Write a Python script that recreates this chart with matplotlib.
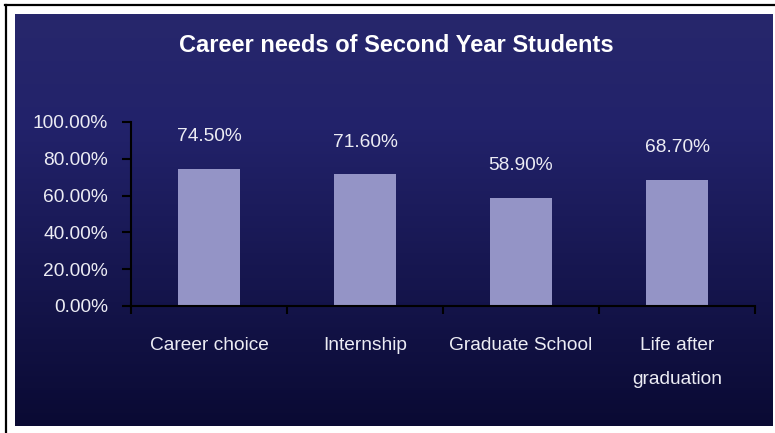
import numpy as np
import matplotlib
matplotlib.use("Agg")
import matplotlib.pyplot as plt
from matplotlib.colors import LinearSegmentedColormap
from matplotlib.lines import Line2D
from matplotlib.ticker import PercentFormatter, FixedLocator

categories = ["Career choice", "Internship", "Graduate School", "Life after\ngraduation"]
shares = [0.745, 0.716, 0.589, 0.687]
title = "Career needs of Second Year Students"

FONT = ["Liberation Sans Narrow", "Liberation Sans", "DejaVu Sans"]
plt.rcParams["font.family"] = FONT
TEXT = "#ECECF4"
LABEL_SIZE = 13.8

W, H = 775, 433
fig = plt.figure(figsize=(W / 100, H / 100), dpi=100, facecolor="white")

# navy panel with a vertical gradient
bg = fig.add_axes([15 / W, (H - 426) / H, 758 / W, 412 / H])
grad = LinearSegmentedColormap.from_list(
    "navy", [(0.0, "#0A0A33"), (0.72, "#22226A"), (1.0, "#27276C")])
bg.imshow(np.linspace(0, 1, 256).reshape(-1, 1), cmap=grad, aspect="auto",
          origin="lower", extent=[0, 1, 0, 1])
bg.set_axis_off()

# outer frame (top and left edges)
fig.add_artist(Line2D([5 / W, 1.0], [1 - 5 / H, 1 - 5 / H], color="black", lw=1.6,
                      transform=fig.transFigure))
fig.add_artist(Line2D([6 / W, 6 / W], [0.0, 1 - 5 / H], color="black", lw=1.6,
                      transform=fig.transFigure))

ax = fig.add_axes([131 / W, (H - 306) / H, 624 / W, 184 / H])
ax.patch.set_visible(False)
x = np.arange(len(categories))
bars = ax.bar(x, shares, width=0.4, color="#9494C6", edgecolor="none")
ax.bar_label(bars, labels=[f"{v * 100:.2f}%" for v in shares], padding=17,
             color=TEXT, fontsize=LABEL_SIZE)

ax.set_xlim(-0.5, len(categories) - 0.5)
ax.set_ylim(0, 1)
ax.yaxis.set_major_locator(FixedLocator(np.linspace(0, 1, 6)))
ax.yaxis.set_major_formatter(PercentFormatter(xmax=1, decimals=2))
ax.set_xticks(x)
ax.set_xticklabels(categories, linespacing=2.25)
ax.xaxis.set_minor_locator(FixedLocator(np.arange(len(categories) + 1) - 0.5))
ax.tick_params(axis="x", which="major", length=0, pad=22.5, labelsize=LABEL_SIZE,
               labelcolor=TEXT)
ax.tick_params(axis="x", which="minor", length=6, width=1.5, direction="out",
               color="black")
ax.tick_params(axis="y", length=6.5, width=1.5, direction="out", color="black",
               pad=10, labelsize=LABEL_SIZE, labelcolor=TEXT)
for side in ("top", "right"):
    ax.spines[side].set_visible(False)
for side in ("left", "bottom"):
    ax.spines[side].set_color("black")
    ax.spines[side].set_linewidth(1.5)

fig.text(396 / W, 1 - 46 / H, title, ha="center", va="center", color="white",
         fontsize=17, fontweight="bold")

fig.savefig("out.png", dpi=100, facecolor="white")
